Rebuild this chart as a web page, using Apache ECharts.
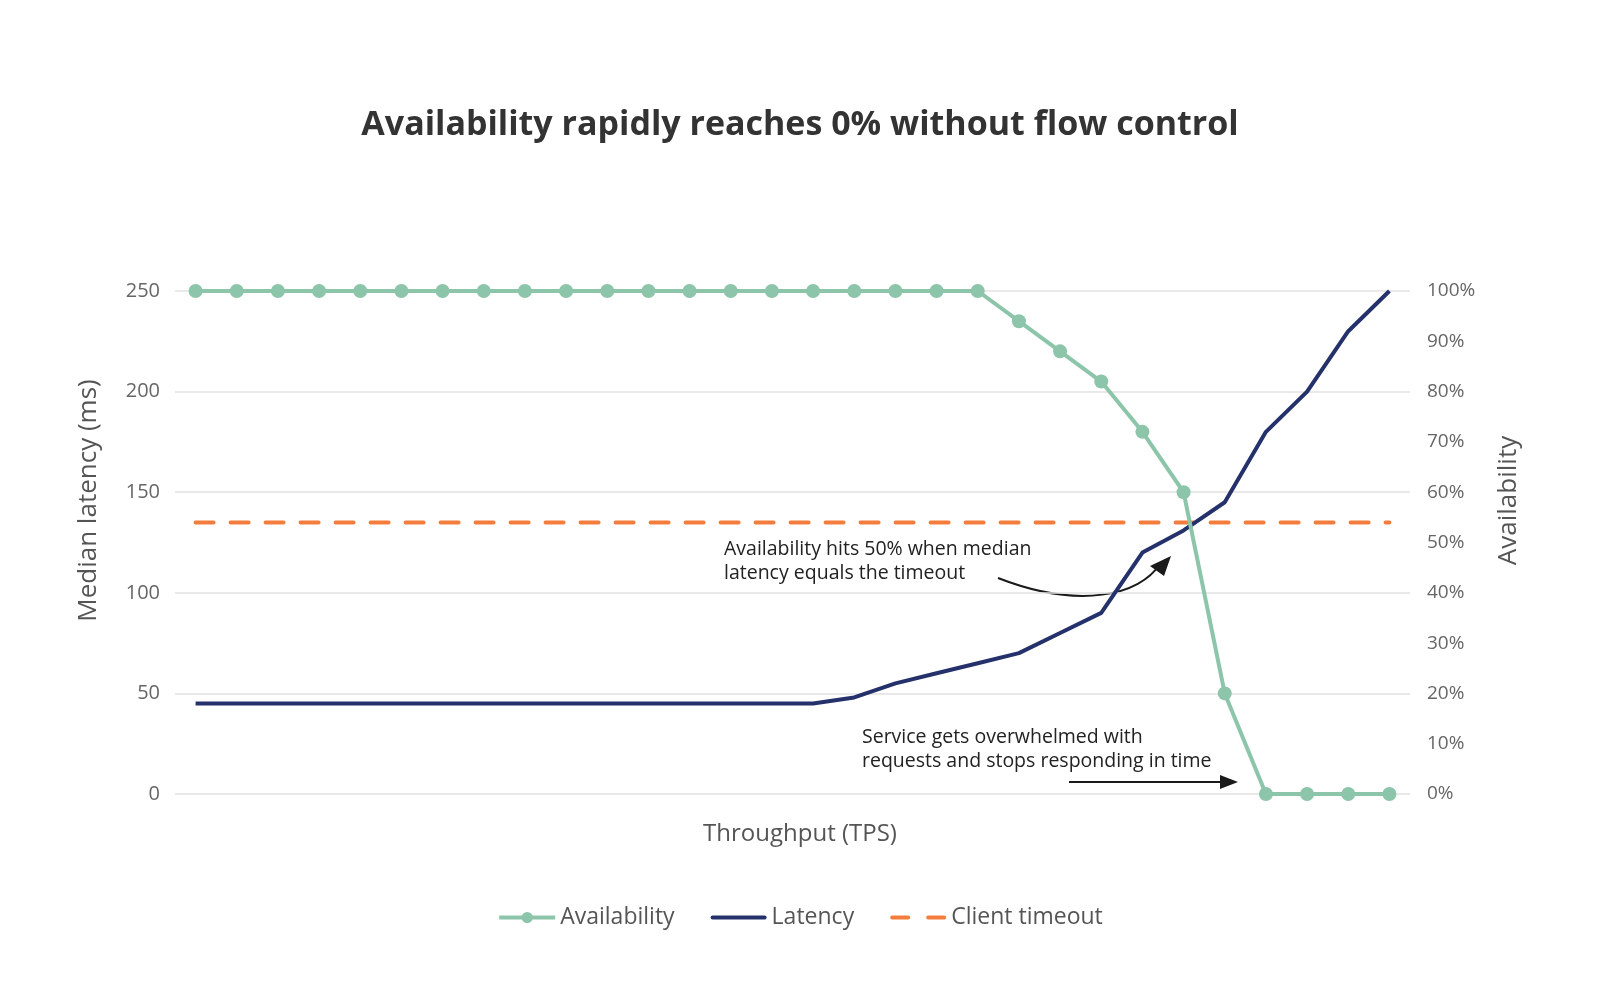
<!DOCTYPE html>
<html>
<head>
<meta charset="utf-8">
<script src="https://cdn.jsdelivr.net/npm/echarts@6/dist/echarts.min.js"></script>
<style>
  html, body { margin: 0; padding: 0; background: #fff; }
  #chart { width: 1600px; height: 1000px; }
</style>
</head>
<body>
<div id="chart"></div>
<script>
// throughput steps (no labels shown on the axis)
const steps = ['1','2','3','4','5','6','7','8','9','10','11','12','13','14','15',
  '16','17','18','19','20','21','22','23','24','25','26','27','28','29','30'];
// availability, %
const availability = [100,100,100,100,100,100,100,100,100,100,100,100,100,100,100,
  100,100,100,100,100,94,88,82,72,60,20,0,0,0,0];
// median latency, ms
const latency = [45,45,45,45,45,45,45,45,45,45,45,45,45,45,45,
  45,48,55,60,65,70,80,90,120,131,145,180,200,230,250];
// client timeout, ms
const timeout = steps.map(() => 135);

const FONT = '"Open Sans", Lato, sans-serif';

const chart = echarts.init(document.getElementById('chart'));
chart.setOption({
  backgroundColor: '#fff',
  textStyle: { fontFamily: FONT },
  title: {
    text: 'Availability rapidly reaches 0% without flow control',
    left: 'center',
    top: 103,
    textStyle: { fontFamily: FONT, fontSize: 34, fontWeight: 'bold', color: '#333' },
  },
  legend: {
    bottom: 66,
    left: 'center',
    itemWidth: 56,
    itemHeight: 14,
    itemGap: 36,
    lineStyle: { width: 'inherit' },
    textStyle: { fontFamily: FONT, fontSize: 23, color: '#555' },
    data: [
      { name: 'Availability' },
      { name: 'Latency', icon: 'path://M2,0h52a2,2 0 0 1 0,4h-52a2,2 0 0 1 0,-4z' },
      { name: 'Client timeout', icon: 'path://M2,0h16a2,2 0 0 1 0,4h-16a2,2 0 0 1 0,-4z M38,0h16a2,2 0 0 1 0,4h-16a2,2 0 0 1 0,-4z' },
    ],
  },
  grid: { left: 175, right: 190, top: 291, bottom: 206 },
  xAxis: {
    type: 'category',
    data: steps,
    boundaryGap: true,
    name: 'Throughput (TPS)',
    nameLocation: 'middle',
    nameGap: 28,
    nameTextStyle: { fontFamily: FONT, fontSize: 24, color: '#555', padding: [0, 0, 0, 15] },
    axisLine: { show: false },
    axisTick: { show: false },
    axisLabel: { show: false },
  },
  yAxis: [
    {
      type: 'value',
      min: 0,
      max: 250,
      interval: 50,
      name: 'Median latency (ms)',
      nameLocation: 'middle',
      nameGap: 73,
      nameTextStyle: { fontFamily: FONT, fontSize: 26, color: '#555', padding: [0, 0, 0, 84] },
      axisLabel: { fontFamily: FONT, fontSize: 20, color: '#666', margin: 15 },
      axisLine: { show: false },
      axisTick: { show: false },
      splitLine: { lineStyle: { color: '#e2e2e2', width: 1.5 } },
    },
    {
      type: 'value',
      min: 0,
      max: 100,
      interval: 10,
      name: 'Availability',
      nameLocation: 'middle',
      nameGap: 86,
      nameTextStyle: { fontFamily: FONT, fontSize: 26, color: '#555', padding: [0, 0, 0, 84] },
      axisLabel: { fontFamily: FONT, fontSize: 19, color: '#666', margin: 17, formatter: '{value}%' },
      axisLine: { show: false },
      axisTick: { show: false },
      splitLine: { show: false },
    },
  ],
  series: [
    {
      name: 'Availability',
      type: 'line',
      yAxisIndex: 1,
      data: availability,
      z: 5,
      symbol: 'circle',
      symbolSize: 14,
      itemStyle: { color: '#8cc5a9' },
      lineStyle: { color: '#8cc5a9', width: 4 },
    },
    {
      name: 'Latency',
      type: 'line',
      yAxisIndex: 0,
      data: latency,
      z: 4,
      showSymbol: false,
      symbol: 'none',
      itemStyle: { color: '#25316b' },
      lineStyle: { color: '#25316b', width: 4 },
    },
    {
      name: 'Client timeout',
      type: 'line',
      yAxisIndex: 0,
      data: timeout,
      z: 3,
      showSymbol: false,
      symbol: 'none',
      itemStyle: { color: '#f47c3c' },
      lineStyle: { color: '#f47c3c', width: 4, type: [18, 17], cap: 'round' },
    },
  ],
  graphic: [
    {
      type: 'text',
      left: 724,
      top: 537,
      style: {
        text: 'Availability hits 50% when median\nlatency equals the timeout',
        font: '19.5px ' + FONT,
        fill: '#222',
        lineHeight: 24.5,
      },
    },
    {
      type: 'bezierCurve',
      shape: { x1: 998, y1: 578, x2: 1160, y2: 564, cpx1: 1080, cpy1: 610, cpx2: 1140, cpy2: 595 },
      style: { stroke: '#1a1a1a', lineWidth: 2, fill: null },
    },
    {
      type: 'polygon',
      shape: { points: [[1171, 556], [1150, 566], [1164, 576]] },
      style: { fill: '#1a1a1a' },
    },
    {
      type: 'text',
      left: 862,
      top: 725,
      style: {
        text: 'Service gets overwhelmed with\nrequests and stops responding in time',
        font: '19.5px ' + FONT,
        fill: '#222',
        lineHeight: 24.5,
      },
    },
    {
      type: 'line',
      shape: { x1: 1069, y1: 782, x2: 1224, y2: 782 },
      style: { stroke: '#1a1a1a', lineWidth: 2 },
    },
    {
      type: 'polygon',
      shape: { points: [[1238, 782], [1220, 775], [1220, 789]] },
      style: { fill: '#1a1a1a' },
    },
  ],
});
</script>
</body>
</html>
